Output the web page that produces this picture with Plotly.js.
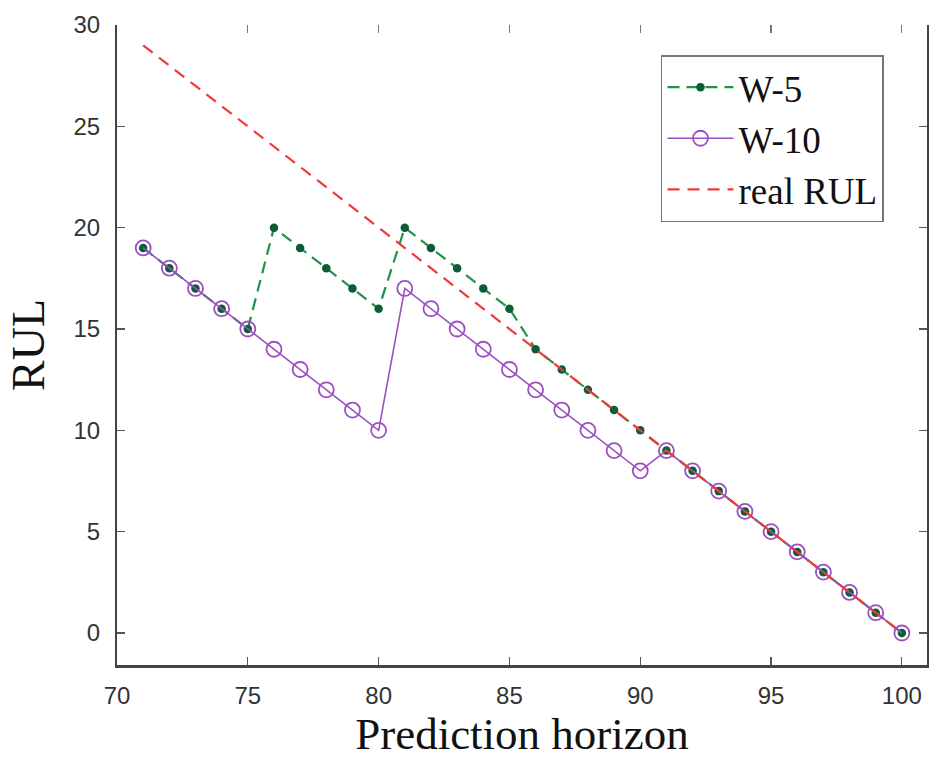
<!DOCTYPE html>
<html>
<head>
<meta charset="utf-8">
<script src="https://cdn.plot.ly/plotly-3.0.1.min.js"></script>
<style>html,body{margin:0;padding:0;background:#fff;}#chart{width:931px;height:759px;}</style>
</head>
<body>
<div id="chart"></div>
<script>
const horizon = [71,72,73,74,75,76,77,78,79,80,81,82,83,84,85,86,87,88,89,90,91,92,93,94,95,96,97,98,99,100];
const w5     = [19,18,17,16,15,20,19,18,17,16,20,19,18,17,16,14,13,12,11,10,9,8,7,6,5,4,3,2,1,0];
const w10    = [19,18,17,16,15,14,13,12,11,10,17,16,15,14,13,12,11,10,9,8,9,8,7,6,5,4,3,2,1,0];
const realRUL= [29,28,27,26,25,24,23,22,21,20,19,18,17,16,15,14,13,12,11,10,9,8,7,6,5,4,3,2,1,0];
const xTicks = [70,75,80,85,90,95,100];
const yTicks = [0,5,10,15,20,25,30];

const traces = [
  {x: horizon, y: w5, name: 'W-5', type: 'scatter', mode: 'lines+markers',
   line: {color: '#22914a', width: 2.2, dash: '12px,7px'},
   marker: {color: '#0d5c38', size: 8.5, symbol: 'circle'}},
  {x: horizon, y: w10, name: 'W-10', type: 'scatter', mode: 'lines+markers',
   line: {color: '#9b4fc0', width: 1.6},
   marker: {color: '#9b4fc0', size: 15, symbol: 'circle-open', line: {width: 1.8}}},
  {x: horizon, y: realRUL, name: 'real RUL', type: 'scatter', mode: 'lines',
   line: {color: '#ee3a3a', width: 2.2, dash: '12px,8px'}},
  {x: [70], y: [0], xaxis: 'x2', type: 'scatter', mode: 'markers', showlegend: false,
   hoverinfo: 'skip', marker: {opacity: 0}}
];

const tickFont = {family: 'Liberation Sans, Arial, sans-serif', size: 24, color: '#333'};
const layout = {
  width: 931, height: 759,
  margin: {l: 117, r: 4, t: 25, b: 94},
  paper_bgcolor: '#fff', plot_bgcolor: '#fff',
  showlegend: true,
  xaxis: {range: [70, 100.96], tickvals: xTicks, ticktext: xTicks.map(String),
    ticks: 'inside', ticklen: 8, tickcolor: '#555', tickwidth: 1.2,
    showline: true, linecolor: '#444', linewidth: 2.5, showgrid: false, zeroline: false,
    tickfont: tickFont, ticklabelstandoff: 8,
    title: {text: 'Prediction horizon', font: {family: 'Liberation Serif, Times New Roman, serif', size: 45, color: '#111'}, standoff: 2}},
  xaxis2: {range: [70, 100.96], overlaying: 'x', side: 'top', tickvals: xTicks,
    showticklabels: false, ticks: 'inside', ticklen: 8, tickcolor: '#777', tickwidth: 1.2,
    showline: false, showgrid: false, zeroline: false},
  yaxis: {range: [-1.58, 30], tickvals: yTicks, ticktext: yTicks.map(String),
    ticks: 'inside', ticklen: 8, tickcolor: '#555', tickwidth: 1.2,
    showline: true, mirror: 'ticks', linecolor: '#444', linewidth: 2, showgrid: false, zeroline: false,
    tickfont: tickFont, ticklabelstandoff: 10,
    title: {text: 'RUL', font: {family: 'Liberation Serif, Times New Roman, serif', size: 46, color: '#111'}, standoff: 14}},
  legend: {x: 0.6716, y: 0.953, xanchor: 'left', yanchor: 'top',
    bgcolor: '#fff', bordercolor: '#777', borderwidth: 1.5,
    font: {family: 'Liberation Serif, Times New Roman, serif', size: 37, color: '#111'},
    itemwidth: 66, tracegroupgap: 0}
};

Plotly.newPlot('chart', traces, layout, {displayModeBar: false, staticPlot: true});
</script>
</body>
</html>
